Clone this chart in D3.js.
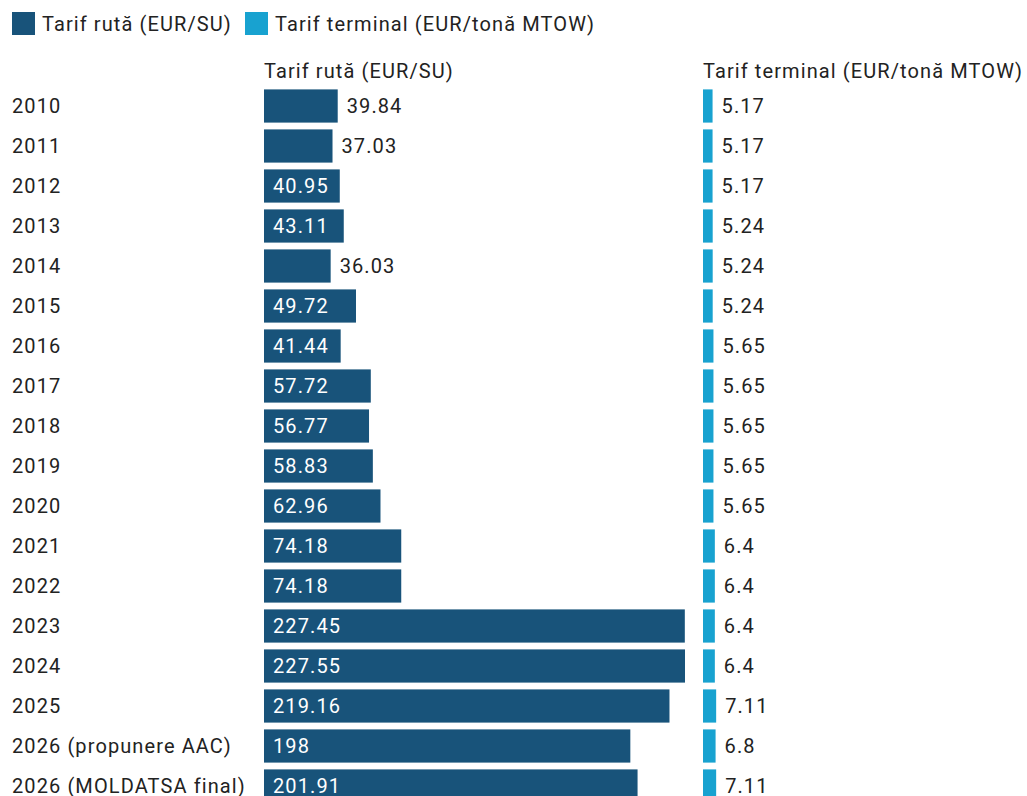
<!DOCTYPE html>
<html>
<head>
<meta charset="utf-8">
<script src="https://cdn.jsdelivr.net/npm/d3@7"></script>
<style>
  body { margin: 0; background: #fff; }
  text { font-family: Roboto, "Noto Sans", sans-serif; letter-spacing: 1.1px; }
</style>
</head>
<body>
<div id="viz-container"></div>
<script>
// data
let years = ["2010","2011","2012","2013","2014","2015","2016","2017","2018","2019","2020","2021","2022","2023","2024","2025","2026 (propunere AAC)","2026 (MOLDATSA final)"];
let routeFee = [39.84,37.03,40.95,43.11,36.03,49.72,41.44,57.72,56.77,58.83,62.96,74.18,74.18,227.45,227.55,219.16,198,201.91];
let terminalFee = [5.17,5.17,5.17,5.24,5.24,5.24,5.65,5.65,5.65,5.65,5.65,6.4,6.4,6.4,6.4,7.11,6.8,7.11];
let seriesNames = ["Tarif rută (EUR/SU)","Tarif terminal (EUR/tonă MTOW)"];
let seriesColors = ["#18537a","#18a2d0"];

let viz = d3.select("#viz-container")
  .append("svg")
    .attr("width", 1027)
    .attr("height", 796);

// legend
let legend = viz.selectAll(".legend").data(seriesNames).enter()
  .append("g")
    .attr("class","legend")
    .attr("transform", function(d,i){ return "translate(" + [12,245][i] + ",12)"; });
legend.append("rect")
  .attr("width",23).attr("height",23)
  .attr("fill", function(d,i){ return seriesColors[i]; });
legend.append("text")
  .attr("x",30).attr("y",12)
  .attr("dy","0.35em")
  .attr("font-size",20)
  .attr("fill","#222")
  .text(function(d){ return d; });

// rows
let y = d3.scaleBand()
  .domain(years)
  .range([86, 86 + 40*years.length])
  .paddingInner(0.17)
  .paddingOuter(0.085);

// one value scale shared by both panels
let x = d3.scaleLinear().domain([0, 227.55]).range([0, 421]);

let routeX = 264, termX = 703;

// row labels
viz.selectAll(".rowlabel").data(years).enter()
  .append("text")
    .attr("class","rowlabel")
    .attr("x",12)
    .attr("y", function(d){ return y(d) + y.bandwidth()/2; })
    .attr("dy","0.35em")
    .attr("font-size",20)
    .attr("fill","#222")
    .text(function(d){ return d; });

// panel headers
viz.selectAll(".header").data(seriesNames).enter()
  .append("text")
    .attr("class","header")
    .attr("x", function(d,i){ return [routeX, termX][i]; })
    .attr("y",71)
    .attr("dy","0.35em")
    .attr("font-size",20)
    .attr("fill","#222")
    .text(function(d){ return d; });

function panel(values, left, color){
  let g = viz.append("g").attr("transform","translate(" + left + ",0)");
  g.selectAll("rect").data(values).enter()
    .append("rect")
      .attr("x", x(0))
      .attr("y", function(d,i){ return y(years[i]); })
      .attr("width", function(d){ return x(d) - x(0); })
      .attr("height", y.bandwidth())
      .attr("fill", color);
  g.selectAll("text").data(values).enter()
    .append("text")
      .attr("x", function(d){ return inside(d) ? x(0) + 9 : x(d) + 9; })
      .attr("y", function(d,i){ return y(years[i]) + y.bandwidth()/2; })
      .attr("dy","0.35em")
      .attr("font-size",20)
      .attr("fill", function(d){ return inside(d) ? "#fff" : "#222"; })
      .text(function(d){ return d; });
}

// values only go inside the bar when the bar is long enough
function inside(d){
  return x(d) - x(0) > 75;
}

panel(routeFee, routeX, seriesColors[0]);
panel(terminalFee, termX, seriesColors[1]);
</script>
</body>
</html>
